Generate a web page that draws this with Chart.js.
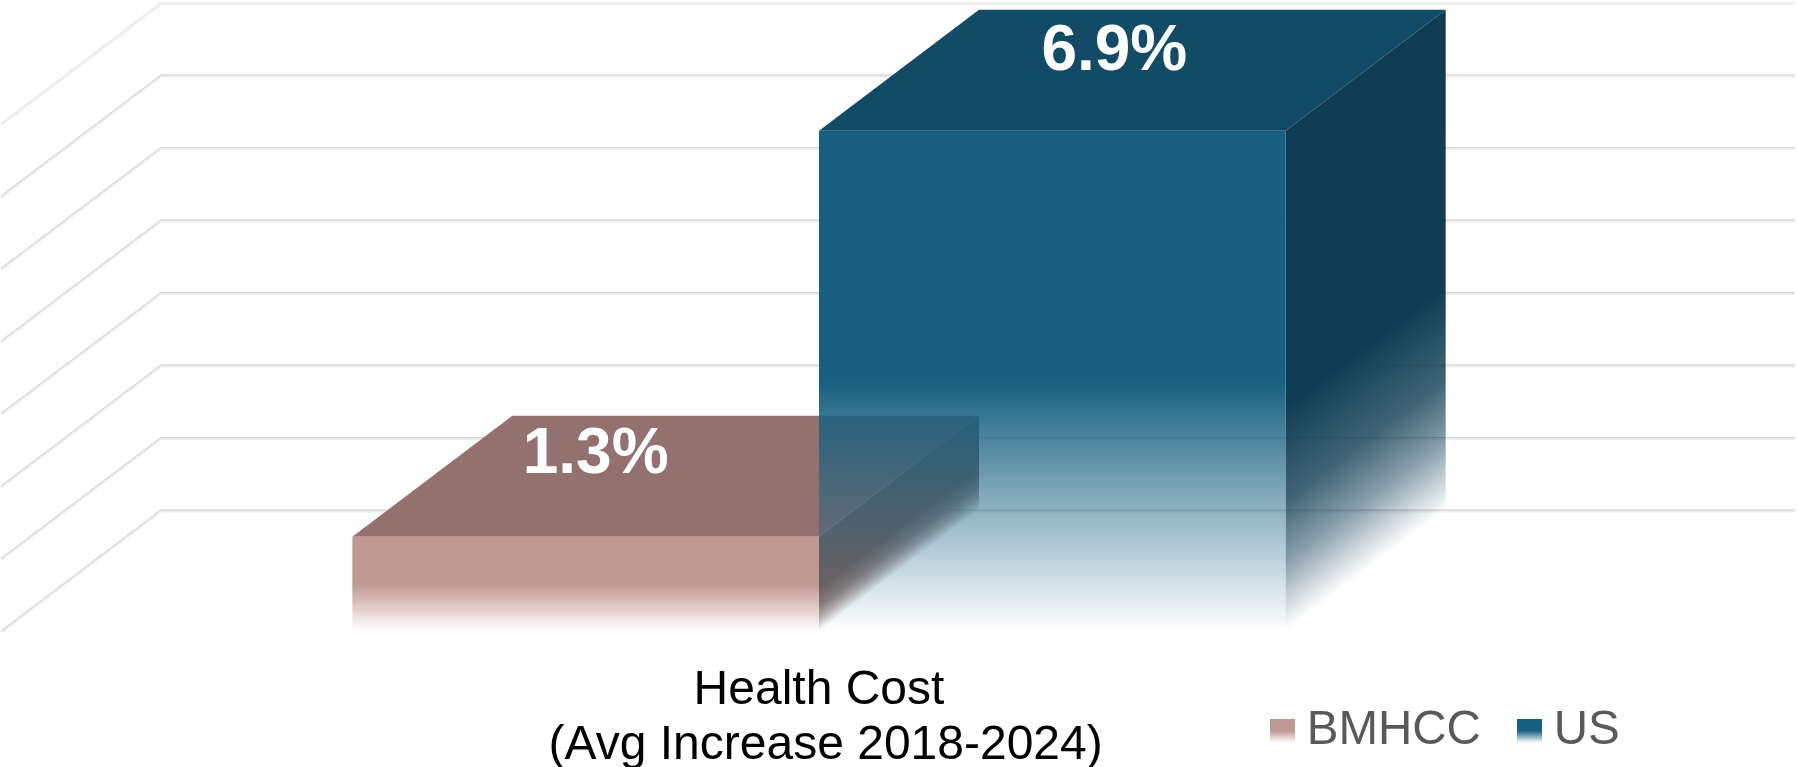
<!DOCTYPE html>
<html>
<head>
<meta charset="utf-8">
<title>Health Cost</title>
<script src="https://cdn.jsdelivr.net/npm/chart.js@4"></script>
<style>
    html, body { margin: 0; padding: 0; background: #ffffff; }
    canvas { display: block; }
</style>
</head>
<body>
<canvas id="report-chart" width="1798" height="767"></canvas>
<script>
// The leading space nudges the second line right, as in the original
const categories = [["Health Cost", " (Avg Increase 2018-2024)"]];
const seriesNames = ["BMHCC", "US"];
const bmhccValues = [1.3];
const usValues = [6.9];
const axisMin = 0;
const axisMax = 7;
const axisStep = 1;

// [front, top, side] colours of each series
const bmhccColours = ["192,152,146", "147,113,110", "123,97,93"];
const usColours = ["23,96,127", "18,75,102", "15,61,83"];

// The back wall sits this far from the front plane
const depthX = 160;
const depthY = -121;

// Value labels sit on the top face, moved by hand from the bar's top centre
const labelOffsets = [[10, -81], [62, -78]];

// Solid for the upper half, then fading out to the baseline
function fadeGradient(ctx, top, bottom, rgb) {
    const gradient = ctx.createLinearGradient(0, top, 0, bottom);
    gradient.addColorStop(0, `rgba(${rgb},1)`);
    gradient.addColorStop(0.5, `rgba(${rgb},1)`);
    gradient.addColorStop(1, `rgba(${rgb},0)`);
    return gradient;
}

// The side faces hold their colour longer before fading
function sideGradient(ctx, top, bottom, rgb) {
    const gradient = ctx.createLinearGradient(0, top, 0, bottom);
    gradient.addColorStop(0, `rgba(${rgb},1)`);
    gradient.addColorStop(0.55, `rgba(${rgb},1)`);
    gradient.addColorStop(0.74, `rgba(${rgb},0.8)`);
    gradient.addColorStop(0.86, `rgba(${rgb},0.5)`);
    gradient.addColorStop(1, `rgba(${rgb},0)`);
    return gradient;
}

function frontFill(context, rgb) {
    const chart = context.chart;
    if (!chart.chartArea || context.dataIndex === undefined) {
        return `rgb(${rgb})`;
    }
    const y = chart.scales.y;
    const value = context.dataset.data[context.dataIndex];
    return fadeGradient(chart.ctx, y.getPixelForValue(value), y.getPixelForValue(axisMin), rgb);
}

// Legend swatches are small images so they can carry the same fade
function makeSwatch(rgb) {
    const swatch = document.createElement("canvas");
    swatch.width = 25;
    swatch.height = 24;
    const ctx = swatch.getContext("2d");
    ctx.fillStyle = fadeGradient(ctx, 0, 24, rgb);
    ctx.fillRect(0, 0, 25, 24);
    return swatch;
}

// Floor and back wall lines, behind all the bars
function drawWall(chart) {
    const { ctx, scales: { x, y } } = chart;
    ctx.save();
    y.ticks.forEach(tick => {
        const py = y.getPixelForValue(tick.value);
        const trace = offset => {
            ctx.beginPath();
            ctx.moveTo(x.left, py + offset);
            ctx.lineTo(x.left + depthX, py + depthY + offset);
            ctx.lineTo(x.right + depthX - 2, py + depthY + offset);
            ctx.stroke();
        };
        ctx.strokeStyle = "#eeeeee";
        ctx.lineWidth = 3;
        trace(1);
        if (tick.value !== axisMax) {
            ctx.strokeStyle = "#d2d2d2";
            ctx.lineWidth = 1;
            trace(0);
        }
    });
    ctx.restore();
}

// Top and side faces of one series
function drawFaces(chart, meta, colours) {
    const ctx = chart.ctx;
    meta.data.forEach(bar => {
        const left = bar.x - bar.width / 2;
        const right = bar.x + bar.width / 2;

        ctx.save();
        ctx.fillStyle = `rgb(${colours[1]})`;
        ctx.beginPath();
        ctx.moveTo(left, bar.y);
        ctx.lineTo(right, bar.y);
        ctx.lineTo(right + depthX, bar.y + depthY);
        ctx.lineTo(left + depthX, bar.y + depthY);
        ctx.closePath();
        ctx.fill();

        // Shear so the side fades along the depth direction
        ctx.transform(1, depthY / depthX, 0, 1, right, 0);
        ctx.fillStyle = sideGradient(ctx, bar.y, bar.base, colours[2]);
        ctx.fillRect(0, bar.y, depthX, bar.base - bar.y);
        ctx.restore();
    });
}

// BMHCC has to go first so the US bar fades over it, which is the opposite of
// the library's order, so the datasets are drawn here and its own pass is skipped
const solidPlugin = {
    id: "solid",
    beforeDatasetsDraw(chart) {
        drawWall(chart);
        [bmhccColours, usColours].forEach((colours, i) => {
            const meta = chart.getDatasetMeta(i);
            drawFaces(chart, meta, colours);
            meta.controller.draw();
        });
    },
    beforeDatasetDraw() {
        return false;
    }
};

const valueLabelPlugin = {
    id: "valueLabels",
    afterDatasetsDraw(chart) {
        const ctx = chart.ctx;
        ctx.save();
        ctx.fillStyle = "#ffffff";
        ctx.font = "bold 64px 'Liberation Sans'";
        ctx.textAlign = "center";
        ctx.textBaseline = "middle";
        chart.data.datasets.forEach((dataset, i) => {
            chart.getDatasetMeta(i).data.forEach((bar, j) => {
                const text = dataset.data[j].toFixed(1) + "%";
                ctx.fillText(text, bar.x + labelOffsets[i][0], bar.y + labelOffsets[i][1]);
            });
        });
        ctx.restore();
    }
};

const legendPadding = 48;

// The legend sits beside the axis label, so it takes no room in the layout
const legendPlacePlugin = {
    id: "legendPlace",
    beforeLayout(chart) {
        const legend = chart.legend;
        legend.fit = function () {
            Object.getPrototypeOf(legend).fit.call(legend);
            legend.height = 0;
        };
    },
    afterLayout(chart) {
        const legend = chart.legend;
        // The library adds the label padding before the first item
        legend.left = 1282 - legendPadding;
        legend.top = 707 - legendPadding;
        legend.right = chart.width;
        legend.bottom = chart.height;
    }
};

new Chart(document.getElementById("report-chart"), {
    type: "bar",
    data: {
        labels: categories,
        datasets: [
            {
                label: seriesNames[0],
                data: bmhccValues,
                backgroundColor: context => frontFill(context, bmhccColours[0]),
                borderWidth: 0
            },
            {
                label: seriesNames[1],
                data: usValues,
                backgroundColor: context => frontFill(context, usColours[0]),
                borderWidth: 0
            }
        ]
    },
    plugins: [solidPlugin, valueLabelPlugin, legendPlacePlugin],
    options: {
        responsive: false,
        animation: false,
        events: [],
        layout: {
            padding: { left: 1, right: 161, top: 123.5, bottom: 0 }
        },
        datasets: {
            bar: { categoryPercentage: 0.5705, barPercentage: 1 }
        },
        scales: {
            x: {
                grid: { display: false },
                border: { display: false },
                ticks: {
                    autoSkip: false,
                    maxRotation: 0,
                    padding: 24,
                    color: "#000000",
                    font: { family: "'Liberation Sans'", size: 48, lineHeight: 1.15 }
                },
                // Keeps the front baseline where the reference has it
                afterFit: scale => {
                    scale.height = 136;
                }
            },
            y: {
                display: false,
                min: axisMin,
                max: axisMax,
                ticks: { stepSize: axisStep }
            }
        },
        plugins: {
            tooltip: { enabled: false },
            legend: {
                position: "bottom",
                align: "start",
                labels: {
                    usePointStyle: true,
                    pointStyleWidth: 1,
                    padding: legendPadding,
                    color: "#595959",
                    font: { family: "'Liberation Sans'", size: 47.5 },
                    generateLabels: chart => chart.data.datasets.map((dataset, i) => ({
                        text: dataset.label,
                        datasetIndex: i,
                        fontColor: "#595959",
                        lineWidth: 0,
                        pointStyle: makeSwatch((i === 0 ? bmhccColours : usColours)[0])
                    }))
                }
            }
        }
    }
});
</script>
</body>
</html>
